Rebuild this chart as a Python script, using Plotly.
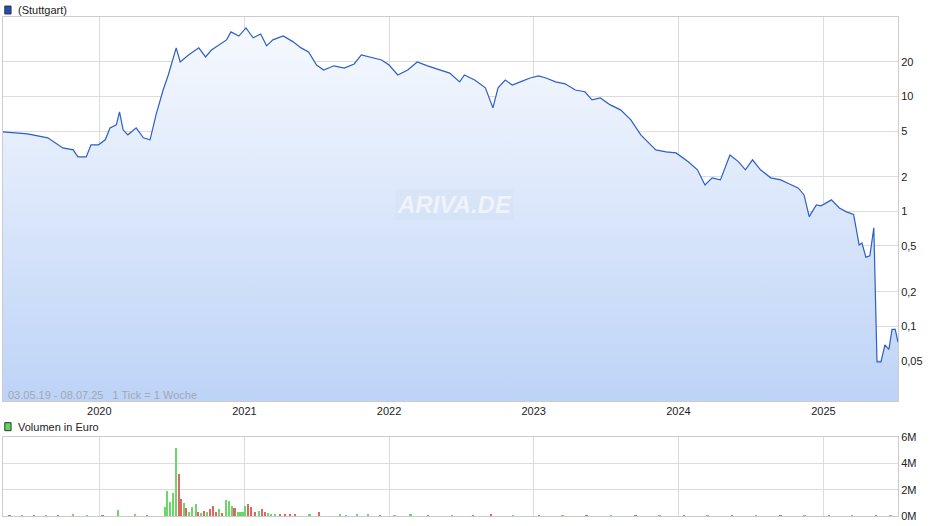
import plotly.graph_objects as go

dates = ["2019-05-03","2019-07-04","2019-08-24","2019-10-01","2019-10-27","2019-11-08","2019-11-29","2019-12-11","2019-12-30",
"2020-01-16","2020-01-28","2020-02-13","2020-02-21","2020-03-01","2020-03-13","2020-04-03","2020-04-21","2020-05-08","2020-05-23",
"2020-06-10","2020-06-23","2020-07-05","2020-07-13","2020-07-23","2020-08-13","2020-09-08","2020-09-25","2020-10-10","2020-10-28",
"2020-11-17","2020-11-28","2020-12-18","2021-01-05","2021-01-23","2021-02-11","2021-02-26","2021-03-14","2021-04-09","2021-05-04",
"2021-05-24","2021-06-12","2021-07-02","2021-07-20","2021-08-15","2021-09-10","2021-10-05","2021-10-23","2021-11-18","2021-12-13",
"2022-01-01","2022-01-23","2022-02-17","2022-03-13","2022-04-08","2022-05-08","2022-06-03","2022-06-28","2022-07-10","2022-08-05",
"2022-09-01","2022-09-20","2022-10-03","2022-10-21","2022-11-08","2022-11-28","2022-12-23","2023-01-13","2023-02-01","2023-02-25",
"2023-03-21","2023-04-16","2023-05-10","2023-05-28","2023-06-18","2023-07-13","2023-08-08","2023-09-03","2023-09-28","2023-10-18",
"2023-11-05","2023-12-01","2023-12-26","2024-01-26","2024-02-18","2024-03-08","2024-03-26","2024-04-16","2024-05-10","2024-06-01",
"2024-06-18","2024-07-06","2024-07-26","2024-08-21","2024-09-15","2024-10-06","2024-10-29","2024-11-13","2024-11-26","2024-12-14",
"2024-12-26","2025-01-21","2025-02-10","2025-02-28","2025-03-18","2025-04-01","2025-04-08","2025-04-18","2025-04-28","2025-05-08",
"2025-05-16","2025-05-26","2025-06-05","2025-06-15","2025-06-23","2025-07-01","2025-07-08"]
prices = [4.92,4.73,4.37,3.57,3.43,2.98,2.98,3.80,3.80,
4.20,5.33,5.66,7.35,5.13,4.64,5.33,4.37,4.20,6.92,
11.4,15.4,20.8,26.5,20.0,23.0,26.5,22.1,25.4,28.1,
31.1,36.5,33.6,39.5,32.4,35.0,27.6,31.1,33.6,29.9,
26.5,24.4,18.8,17.0,18.5,17.7,19.2,23.0,21.7,20.8,
18.8,15.4,17.0,20.0,18.5,17.0,16.0,13.4,15.4,13.9,
11.9,7.96,11.9,13.9,12.6,13.4,14.5,15.1,14.5,13.4,
12.9,11.4,11.0,9.35,9.72,8.45,7.65,6.26,4.64,3.95,
3.43,3.30,3.23,2.70,2.30,1.70,1.96,1.88,3.10,2.70,
2.30,2.81,2.30,1.96,1.88,1.74,1.60,1.39,0.90,1.14,
1.12,1.26,1.07,0.99,0.94,0.51,0.53,0.40,0.41,0.72,
0.049,0.049,0.069,0.063,0.094,0.094,0.073,0.085]

vol_dates = ["2019-10-27","2020-02-18","2020-06-15","2020-06-20","2020-06-28","2020-07-05","2020-07-13","2020-07-20","2020-07-25",
"2020-08-02","2020-08-08","2020-08-15","2020-08-22","2020-09-01","2020-09-07","2020-09-15","2020-09-22","2020-09-30","2020-10-07",
"2020-10-15","2020-10-22","2020-10-29","2020-11-06","2020-11-16","2020-11-23","2020-12-01","2020-12-08","2020-12-16","2020-12-23",
"2020-12-30","2021-01-04","2021-01-11","2021-01-19","2021-01-29","2021-02-08","2021-02-15","2021-02-23","2021-03-02","2021-03-10",
"2021-03-19","2021-04-01","2021-04-14","2021-04-26","2021-05-09","2021-06-15","2021-07-08","2021-08-30","2021-10-13","2021-11-10",
"2022-02-25","2022-09-15"]
vol_values = [0.1,0.46,0.64,1.9,1.08,1.77,5.15,3.15,1.3,
0.97,0.6,0.33,0.67,0.92,0.28,0.2,0.38,0.26,0.54,
0.77,0.33,0.51,0.2,1.23,1.1,0.77,0.56,0.28,0.31,
0.33,0.72,0.92,0.67,0.28,0.38,0.49,0.33,0.2,0.15,
0.15,0.15,0.13,0.15,0.13,0.1,0.31,0.15,0.15,0.1,
0.1,0.08]
vol_up = [1,1,1,1,1,1,1,0,0,
1,0,1,1,1,0,1,0,1,0,
0,0,1,0,1,1,1,0,1,1,
1,1,0,0,0,1,0,0,1,1,
1,0,0,0,0,1,0,1,1,1,
1,0]
small_dates = ["2019-05-20","2019-06-20","2019-07-20","2019-08-20","2019-09-20","2019-12-01","2020-01-10","2020-04-01","2020-05-01",
"2021-09-15","2021-12-10","2022-01-15","2022-04-10","2022-06-10","2022-08-01","2022-11-10","2023-01-15","2023-03-15","2023-05-15",
"2023-07-15","2023-09-15","2023-11-15","2024-01-15","2024-03-15","2024-05-15","2024-07-15","2024-09-15","2024-11-15","2025-01-15",
"2025-03-15","2025-05-15","2025-06-20"]
small_values = [0.04,0.05,0.04,0.05,0.04,0.05,0.06,0.08,0.06,
0.06,0.05,0.05,0.05,0.04,0.05,0.04,0.04,0.05,0.04,
0.04,0.04,0.04,0.05,0.04,0.04,0.04,0.04,0.04,0.04,
0.04,0.05,0.05]
small_up = [0,1,0,1,0,1,0,1,0,1,0,1,0,1,0,1,0,1,0,1,0,1,0,1,0,1,0,1,0,1,0,1]

year_ticks = ["2020-01-01","2021-01-01","2022-01-01","2023-01-01","2024-01-01","2025-01-01"]
year_labels = ["2020","2021","2022","2023","2024","2025"]
price_ticks = [0.05,0.1,0.2,0.5,1,2,5,10,20]
price_labels = ["0,05","0,1","0,2","0,5","1","2","5","10","20"]
vol_ticks = [0,2,4,6]
vol_labels = ["0M","2M","4M","6M"]

GREEN = "#6cd86c"; RED = "#e06666"
ymin = 0.0224
fig = go.Figure()
fig.add_trace(go.Scatter(x=[dates[0], dates[-1]], y=[ymin, ymin], mode="lines",
                         line=dict(width=0), hoverinfo="skip", showlegend=False))
fig.add_trace(go.Scatter(x=dates, y=prices, mode="lines", fill="tonexty",
                         line=dict(color="#2c5fc4", width=1.2),
                         fillgradient=dict(type="vertical", colorscale=[[0, "#bdd3f7"], [1, "#f6f9fe"]]),
                         showlegend=False))
fig.add_trace(go.Bar(x=vol_dates + small_dates, y=vol_values + small_values,
                     marker=dict(color=[GREEN if u else RED for u in vol_up + small_up], line=dict(width=0)),
                     width=4.5 * 86400000, xaxis="x2", yaxis="y2", showlegend=False))

grid = "#dcdcdc"
fig.update_layout(
    width=940, height=526, margin=dict(l=3, r=42, t=17, b=10),
    paper_bgcolor="white", plot_bgcolor="white",
    font=dict(family="Liberation Sans, Arial", size=11, color="#222"),
    bargap=0,
    xaxis=dict(domain=[0, 1], range=["2019-05-03", "2025-07-08"], tickvals=year_ticks, ticktext=year_labels,
               showgrid=True, gridcolor=grid, showline=True, linecolor="#ccc", mirror=True, ticks="", zeroline=False),
    yaxis=dict(domain=[0.2305, 1], type="log", range=[-1.65, 1.692], side="right", tickvals=price_ticks,
               ticktext=price_labels, showgrid=True, gridcolor=grid, showline=True, linecolor="#ccc", mirror=True,
               ticks="", zeroline=False),
    xaxis2=dict(domain=[0, 1], anchor="y2", range=["2019-05-03", "2025-07-08"], tickvals=year_ticks,
                showticklabels=False, showgrid=True, gridcolor=grid, showline=True, linecolor="#ccc", mirror=True,
                zeroline=False),
    yaxis2=dict(domain=[0, 0.158], anchor="x2", range=[0, 6], side="right", tickvals=vol_ticks, ticktext=vol_labels,
                showgrid=True, gridcolor=grid, showline=True, linecolor="#ccc", mirror=True, zeroline=False),
)
fig.add_shape(type="rect", xref="paper", yref="paper", x0=0.002, x1=0.009, y0=1.006, y1=1.022,
              fillcolor="#1f4fb8", line=dict(color="#333", width=1))
fig.add_annotation(xref="paper", yref="paper", x=0.014, y=1.014, text="(Stuttgart)", showarrow=False,
                   xanchor="left", yanchor="middle", font=dict(size=11, color="#222"))
fig.add_shape(type="rect", xref="paper", yref="paper", x0=0.002, x1=0.009, y0=0.171, y1=0.187,
              fillcolor="#5cd65c", line=dict(color="#333", width=1))
fig.add_annotation(xref="paper", yref="paper", x=0.014, y=0.179, text="Volumen in Euro", showarrow=False,
                   xanchor="left", yanchor="middle", font=dict(size=11, color="#222"))
fig.add_annotation(xref="paper", yref="paper", x=0.003, y=0.242, text="03.05.19 - 08.07.25   1 Tick = 1 Woche",
                   showarrow=False, xanchor="left", yanchor="middle", font=dict(size=11, color="#a0a8b4"))
fig.add_annotation(xref="paper", yref="paper", x=0.505, y=0.625, text="<i><b>ARIVA.DE</b></i>", showarrow=False,
                   font=dict(size=24, color="rgba(255,255,255,0.6)"), bgcolor="rgba(205,215,230,0.2)")
fig.write_html("out.html", config={"displayModeBar": False},
               post_script="document.body.style.margin='0';document.body.style.padding='0';")
